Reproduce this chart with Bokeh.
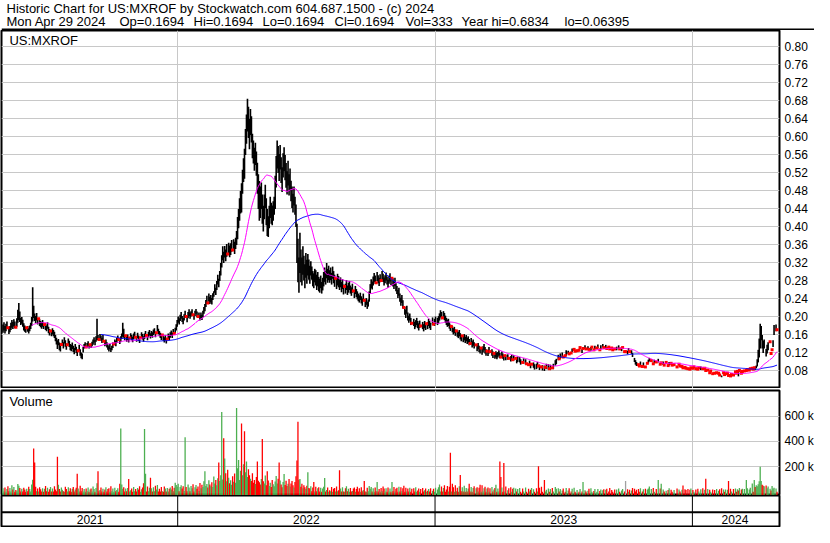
import numpy as np
import pandas as pd
from bokeh.plotting import figure
from bokeh.layouts import column
from bokeh.models import Range1d, FixedTicker, NumeralTickFormatter, Span, ColumnDataSource
from bokeh.core.properties import value
from bokeh.embed import file_html
from bokeh.resources import INLINE

# ---------------- chart texts ----------------
TITLE_LINE_1 = "Historic Chart for US:MXROF by Stockwatch.com 604.687.1500 - (c) 2024"
TITLE_LINE_2 = ["Mon Apr 29 2024", "Op=0.1694", "Hi=0.1694", "Lo=0.1694", "Cl=0.1694",
                "Vol=333", "Year hi=0.6834", "lo=0.06395"]
SYMBOL = "US:MXROF"
VOLUME_LABEL = "Volume"
LAST_DATE = "2024-04-29"
MA_FAST, MA_SLOW = 30, 100
PRICE_TICKS = [0.08, 0.12, 0.16, 0.20, 0.24, 0.28, 0.32, 0.36, 0.40, 0.44,
               0.48, 0.52, 0.56, 0.60, 0.64, 0.68, 0.72, 0.76, 0.80]
VOLUME_TICKS = [200, 400, 600]
VOLUME_TICK_LABELS = ["200 k", "400 k", "600 k"]

# ---------------- daily data ----------------
close = [
.172,.178,.169,.175,.181,.174,.168,.171,.177,.183,
.179,.186,.181,.175,.184,.192,.205,.198,.188,.191,
.183,.176,.172,.169,.174,.171,.167,.172,.178,.186,
.214,.205,.197,.192,.199,.188,.194,.185,.182,.179,
.184,.178,.181,.176,.172,.179,.169,.164,.167,.161,
.166,.162,.158,.151,.144,.138,.142,.134,.129,.137,
.141,.135,.146,.139,.132,.136,.143,.138,.131,.129,
.134,.127,.122,.131,.125,.118,.123,.129,.119,.112,
.109,.126,.133,.137,.131,.135,.139,.133,.136,.134,
.138,.142,.147,.141,.149,.163,.152,.148,.155,.151,
.146,.153,.144,.139,.142,.136,.131,.127,.132,.124,
.129,.135,.138,.142,.139,.146,.151,.148,.144,.149,
.155,.168,.159,.152,.156,.149,.153,.147,.151,.156,
.152,.148,.155,.159,.153,.149,.157,.151,.146,.152,
.158,.154,.149,.155,.161,.157,.152,.159,.163,.156,
.161,.158,.164,.167,.159,.163,.172,.166,.161,.157,
.153,.158,.151,.147,.152,.143,.149,.155,.152,.158,
.162,.157,.165,.161,.168,.175,.184,.192,.188,.196,
.201,.194,.189,.197,.204,.199,.193,.202,.207,.201,
.205,.209,.203,.198,.206,.211,.204,.199,.202,.196,
.201,.197,.205,.212,.219,.228,.236,.229,.241,.235,
.238,.232,.243,.251,.262,.255,.268,.281,.274,.289,
.305,.322,.338,.331,.342,.336,.345,.338,.351,.344,
.349,.356,.347,.359,.352,.361,.372,.395,.412,.438,
.452,.447,.498,.523,.518,.582,.615,.652,.628,.604,
.637,.612,.578,.565,.548,.561,.542,.515,.488,.462,
.451,.473,.436,.412,.445,.468,.431,.409,.392,.418,
.441,.428,.419,.437,.446,.478,.523,.562,.548,.531,
.556,.524,.502,.538,.551,.529,.512,.496,.518,.489,
.503,.478,.462,.451,.468,.442,.421,.348,.318,.285,
.342,.311,.296,.328,.305,.287,.312,.298,.315,.304,
.292,.309,.296,.284,.279,.291,.286,.275,.283,.271,
.268,.276,.263,.271,.281,.292,.285,.301,.289,.296,
.288,.294,.283,.297,.286,.279,.284,.272,.281,.276,
.269,.275,.264,.271,.258,.266,.261,.269,.257,.263,
.268,.259,.254,.262,.256,.249,.258,.251,.246,.241,
.238,.244,.236,.231,.242,.235,.228,.233,.224,.229,
.246,.262,.273,.268,.279,.286,.281,.274,.288,.282,
.276,.284,.279,.291,.285,.277,.282,.288,.279,.272,
.281,.286,.278,.284,.275,.269,.276,.264,.258,.249,
.254,.241,.232,.238,.226,.219,.212,.205,.214,.199,
.193,.198,.188,.184,.191,.186,.179,.183,.188,.181,
.176,.182,.178,.185,.179,.174,.181,.177,.183,.179,
.186,.181,.177,.184,.189,.182,.186,.191,.185,.188,
.192,.198,.205,.201,.196,.203,.199,.193,.188,.184,
.186,.179,.174,.177,.171,.166,.169,.163,.167,.161,
.158,.162,.155,.151,.156,.149,.153,.147,.151,.145,
.148,.142,.139,.144,.137,.141,.135,.132,.136,.129,
.133,.127,.124,.129,.121,.126,.131,.124,.119,.122,
.118,.124,.121,.116,.119,.114,.117,.112,.115,.111,
.114,.118,.112,.109,.115,.111,.107,.112,.108,.104,
.109,.106,.111,.105,.108,.103,.107,.102,.106,.101,
.104,.099,.103,.098,.101,.097,.1,.095,.098,.094,
.096,.092,.095,.09,.093,.089,.091,.087,.09,.088,
.092,.089,.086,.09,.087,.085,.088,.084,.086,.088,
.085,.087,.083,.086,.089,.085,.088,.092,.096,.099,
.103,.108,.105,.111,.107,.113,.109,.115,.112,.118,
.114,.119,.116,.121,.118,.124,.12,.126,.122,.119,
.123,.127,.124,.13,.126,.122,.128,.125,.131,.127,
.124,.129,.126,.122,.127,.131,.128,.125,.13,.126,
.129,.133,.128,.125,.131,.127,.134,.13,.126,.132,
.128,.135,.131,.127,.133,.129,.125,.13,.127,.123,
.128,.124,.131,.127,.122,.126,.13,.125,.121,.121,
.123,.119,.125,.121,.116,.12,.113,.108,.103,.098,
.094,.097,.092,.089,.095,.091,.088,.093,.09,.087,
.091,.095,.099,.103,.097,.101,.098,.094,.099,.102,
.098,.095,.101,.097,.093,.096,.092,.095,.091,.094,
.097,.093,.09,.094,.098,.095,.091,.088,.092,.095,
.091,.087,.09,.093,.089,.086,.088,.085,.089,.086,
.084,.087,.083,.086,.082,.085,.088,.084,.087,.085,
.083,.086,.082,.085,.081,.084,.087,.083,.08,.084,
.079,.076,.08,.077,.074,.078,.075,.072,.076,.073,
.071,.074,.07,.073,.069,.072,.068,.071,.074,.07,
.072,.069,.073,.068,.071,.067,.07,.073,.069,
.074,.076,.073,.077,.075,.079,.076,.073,.077,.075,
.078,.076,.079,.081,.077,.08,.083,.081,.084,.082,
.085,.083,.087,.094,.108,.121,.152,.168,.142,.131,
.138,.126,.119,.128,.134,.121,.143,.117,.125,.138,
.172,.165,.176,.1694]

high = [
.181,.186,.178,.183,.188,.174,.176,.178,.185,.191,
.187,.193,.188,.175,.195,.214,.229,.21,.196,.198,
.192,.184,.179,.176,.174,.178,.173,.179,.185,.198,
.264,.223,.206,.2,.207,.196,.194,.193,.189,.186,
.191,.185,.181,.183,.179,.186,.176,.171,.167,.168,
.173,.169,.165,.158,.152,.146,.149,.141,.136,.137,
.148,.142,.153,.146,.139,.136,.15,.145,.138,.136,
.141,.134,.129,.138,.132,.125,.123,.136,.126,.119,
.117,.131,.138,.142,.131,.14,.144,.138,.136,.139,
.143,.148,.153,.147,.155,.194,.158,.148,.16,.157,
.152,.158,.144,.145,.148,.142,.137,.133,.138,.129,
.134,.141,.138,.148,.145,.152,.157,.148,.15,.155,
.161,.185,.172,.158,.156,.155,.159,.153,.151,.162,
.158,.154,.161,.165,.153,.155,.163,.157,.152,.152,
.164,.16,.155,.161,.167,.157,.158,.165,.169,.162,
.167,.164,.17,.173,.165,.163,.18,.172,.167,.163,
.159,.158,.157,.153,.158,.149,.149,.161,.158,.164,
.168,.163,.171,.161,.174,.182,.191,.199,.195,.203,
.209,.2,.196,.204,.212,.199,.2,.209,.215,.208,
.211,.215,.203,.204,.212,.216,.21,.199,.208,.202,
.208,.203,.212,.22,.227,.236,.245,.229,.25,.243,
.247,.24,.251,.255,.271,.263,.278,.292,.283,.3,
.318,.335,.355,.343,.356,.348,.36,.338,.363,.357,
.362,.369,.347,.371,.365,.374,.389,.42,.438,.462,
.478,.495,.525,.551,.572,.616,.648,.683,.665,.638,
.66,.644,.605,.59,.574,.585,.566,.541,.515,.5,
.488,.497,.47,.445,.47,.492,.462,.438,.422,.445,
.465,.452,.446,.455,.465,.512,.556,.59,.578,.56,
.58,.553,.531,.562,.575,.558,.54,.522,.545,.515,
.528,.501,.488,.472,.488,.465,.448,.405,.372,.33,
.385,.348,.33,.355,.334,.315,.34,.325,.338,.326,
.312,.322,.31,.3,.295,.305,.302,.292,.298,.287,
.283,.29,.276,.285,.298,.308,.3,.318,.305,.312,
.302,.308,.296,.31,.3,.292,.284,.286,.294,.289,
.281,.286,.276,.282,.27,.266,.272,.28,.268,.274,
.278,.268,.264,.272,.256,.258,.267,.26,.255,.25,
.246,.252,.244,.239,.25,.235,.236,.24,.232,.237,
.255,.271,.282,.277,.288,.296,.29,.274,.298,.291,
.285,.293,.279,.3,.294,.286,.291,.297,.288,.281,
.29,.295,.287,.284,.284,.278,.285,.273,.267,.258,
.263,.25,.241,.247,.235,.219,.221,.214,.223,.208,
.201,.206,.196,.184,.199,.194,.187,.191,.196,.189,
.184,.19,.178,.193,.187,.182,.189,.185,.183,.187,
.194,.189,.185,.192,.197,.182,.194,.199,.193,.196,
.2,.206,.213,.209,.196,.211,.207,.201,.196,.192,
.194,.186,.181,.177,.178,.173,.176,.17,.167,.168,
.165,.169,.162,.158,.156,.156,.16,.154,.158,.152,
.155,.149,.139,.151,.144,.148,.142,.139,.136,.136,
.14,.134,.131,.129,.128,.133,.138,.131,.126,.122,
.125,.131,.121,.123,.126,.121,.117,.119,.122,.118,
.12,.124,.118,.109,.121,.117,.113,.112,.114,.11,
.115,.106,.117,.111,.114,.103,.113,.108,.106,.107,
.11,.099,.109,.104,.107,.097,.106,.101,.104,.094,
.102,.092,.101,.096,.093,.095,.097,.093,.09,.094,
.098,.089,.092,.096,.087,.091,.088,.09,.086,.094,
.085,.093,.083,.092,.095,.085,.094,.098,.102,.105,
.103,.114,.105,.117,.107,.119,.109,.121,.112,.124,
.114,.123,.116,.121,.118,.128,.12,.126,.122,.124,
.123,.131,.124,.13,.126,.126,.128,.125,.135,.127,
.124,.133,.126,.122,.131,.131,.128,.125,.134,.126,
.129,.137,.128,.125,.135,.127,.138,.13,.126,.136,
.128,.139,.131,.127,.137,.129,.125,.134,.127,.123,
.132,.124,.135,.127,.122,.13,.13,.125,.121,.121,
.123,.123,.129,.121,.116,.124,.118,.112,.107,.102,
.098,.101,.092,.089,.099,.091,.088,.097,.09,.087,
.091,.095,.103,.107,.097,.101,.098,.094,.103,.102,
.098,.095,.105,.097,.093,.096,.092,.099,.091,.094,
.097,.093,.09,.098,.102,.095,.091,.088,.092,.099,
.091,.087,.09,.093,.089,.086,.088,.085,.089,.086,
.084,.091,.083,.086,.082,.085,.092,.084,.087,.085,
.083,.086,.082,.085,.081,.088,.087,.083,.08,.084,
.079,.076,.08,.077,.074,.078,.075,.072,.076,.073,
.071,.074,.07,.073,.069,.076,.068,.071,.074,.07,
.072,.069,.073,.068,.071,.067,.07,.073,.069,
.074,.076,.073,.077,.078,.079,.076,.073,.077,.075,
.078,.076,.079,.081,.077,.08,.083,.085,.084,.082,
.085,.088,.09,.104,.125,.15,.183,.178,.158,.145,
.148,.14,.127,.136,.142,.121,.143,.117,.125,.146,
.18,.175,.181,.1694]

low = [
.163,.168,.161,.166,.172,.174,.16,.164,.169,.174,
.171,.177,.173,.175,.176,.185,.191,.187,.18,.183,
.176,.168,.165,.163,.174,.165,.161,.166,.171,.178,
.188,.196,.189,.184,.19,.181,.194,.178,.175,.172,
.176,.171,.181,.169,.166,.172,.162,.157,.167,.155,
.159,.155,.151,.144,.137,.127,.135,.124,.121,.137,
.134,.128,.139,.132,.125,.136,.136,.131,.124,.122,
.127,.12,.115,.124,.118,.111,.123,.122,.112,.106,
.104,.119,.128,.132,.131,.13,.134,.128,.136,.129,
.133,.136,.141,.135,.143,.147,.146,.148,.149,.145,
.14,.147,.144,.133,.136,.13,.125,.121,.126,.12,
.124,.129,.138,.136,.133,.14,.145,.148,.138,.143,
.149,.154,.152,.146,.156,.143,.147,.141,.151,.15,
.146,.142,.149,.153,.153,.143,.151,.145,.14,.152,
.152,.148,.143,.149,.155,.157,.146,.153,.157,.15,
.155,.152,.158,.161,.153,.163,.165,.16,.155,.151,
.147,.158,.145,.141,.146,.139,.149,.149,.146,.152,
.156,.151,.159,.161,.162,.168,.176,.185,.181,.189,
.194,.187,.182,.19,.197,.199,.186,.195,.2,.194,
.199,.203,.203,.192,.2,.205,.198,.199,.196,.19,
.195,.191,.198,.205,.211,.22,.227,.229,.232,.227,
.23,.226,.236,.243,.252,.247,.258,.27,.264,.278,
.29,.308,.324,.318,.33,.322,.332,.338,.339,.331,
.336,.343,.347,.346,.338,.349,.358,.371,.395,.412,
.428,.43,.472,.498,.505,.558,.583,.61,.596,.571,
.602,.586,.551,.539,.523,.536,.512,.472,.438,.412,
.418,.438,.405,.388,.415,.44,.402,.378,.376,.395,
.418,.405,.402,.412,.425,.438,.486,.528,.518,.5,
.526,.496,.476,.508,.522,.502,.485,.47,.49,.468,
.478,.455,.44,.43,.446,.425,.398,.318,.275,.252,
.296,.275,.268,.292,.279,.262,.285,.272,.29,.281,
.272,.29,.281,.266,.262,.275,.268,.258,.266,.255,
.252,.262,.25,.257,.266,.276,.27,.284,.274,.28,
.274,.28,.27,.283,.273,.265,.284,.26,.268,.264,
.258,.264,.253,.26,.248,.266,.25,.258,.247,.252,
.258,.25,.245,.252,.256,.24,.249,.242,.237,.233,
.23,.236,.228,.223,.234,.235,.22,.225,.216,.221,
.232,.25,.262,.259,.268,.276,.272,.274,.278,.273,
.267,.275,.279,.281,.276,.268,.273,.279,.27,.263,
.272,.277,.269,.284,.266,.26,.267,.255,.249,.24,
.245,.232,.223,.229,.217,.219,.203,.196,.205,.19,
.185,.19,.18,.184,.183,.178,.171,.175,.18,.173,
.168,.174,.178,.177,.171,.166,.173,.169,.183,.171,
.178,.173,.169,.176,.181,.182,.178,.183,.177,.18,
.184,.19,.197,.193,.196,.195,.191,.185,.18,.176,
.178,.172,.167,.177,.164,.159,.162,.156,.167,.154,
.151,.155,.148,.144,.156,.142,.146,.14,.144,.138,
.141,.135,.139,.137,.13,.134,.128,.125,.136,.122,
.126,.12,.117,.129,.114,.119,.124,.117,.112,.122,
.111,.117,.121,.109,.112,.107,.117,.105,.108,.104,
.108,.112,.106,.109,.109,.105,.101,.112,.102,.098,
.103,.106,.105,.099,.102,.103,.101,.096,.106,.095,
.098,.099,.097,.092,.095,.097,.094,.089,.092,.094,
.09,.092,.089,.084,.093,.083,.085,.081,.09,.082,
.086,.089,.08,.084,.087,.079,.088,.078,.086,.082,
.085,.081,.083,.08,.083,.085,.082,.086,.09,.093,
.103,.102,.105,.105,.107,.107,.109,.109,.112,.112,
.114,.115,.116,.121,.118,.12,.12,.126,.122,.115,
.123,.123,.124,.13,.126,.118,.128,.125,.127,.127,
.124,.125,.126,.122,.123,.131,.128,.125,.126,.126,
.129,.129,.128,.125,.127,.127,.13,.13,.126,.128,
.128,.131,.131,.127,.129,.129,.125,.126,.127,.123,
.124,.124,.127,.127,.122,.122,.13,.125,.121,.121,
.123,.115,.121,.121,.116,.116,.109,.104,.098,.092,
.089,.093,.092,.089,.091,.091,.088,.089,.09,.087,
.091,.095,.095,.099,.097,.101,.098,.094,.095,.102,
.098,.095,.097,.097,.093,.096,.092,.091,.091,.094,
.097,.093,.09,.09,.094,.095,.091,.088,.092,.091,
.091,.087,.09,.093,.089,.086,.088,.085,.089,.086,
.084,.083,.083,.086,.082,.085,.084,.084,.087,.085,
.083,.086,.082,.085,.081,.08,.087,.083,.08,.084,
.079,.076,.08,.077,.074,.078,.075,.072,.076,.073,
.071,.074,.07,.073,.069,.068,.064,.071,.074,.07,
.072,.069,.073,.068,.071,.067,.07,.073,.069,
.074,.076,.073,.077,.066,.079,.076,.073,.077,.075,
.078,.076,.079,.081,.077,.08,.083,.081,.084,.082,
.085,.08,.084,.088,.097,.108,.128,.146,.128,.118,
.128,.117,.11,.117,.124,.121,.143,.117,.125,.131,
.158,.16,.166,.1694]

# volume in thousands of shares; 0 = no trade that day
volume_k = [
28,4,35,2,22,45,6,30,3,52,
20,38,2,15,5,62,48,31,4,24,
3,33,19,2,25,5,40,22,3,58,
96,343,233,41,5,27,3,36,21,4,
29,2,24,47,5,33,2,21,38,4,
26,3,44,19,6,279,57,23,4,34,
18,5,2,41,22,3,36,6,28,2,
24,39,4,20,33,143,26,3,48,5,
31,3,22,2,27,6,35,2,20,26,
4,42,23,2,30,68,164,5,16,34,
3,25,2,19,37,4,22,28,2,45,
5,26,2,33,6,15,29,2,64,502,
58,24,36,3,27,5,31,102,4,14,
26,2,38,5,23,3,30,19,44,2,
21,35,68,497,143,4,42,6,33,112,
29,3,37,6,48,19,55,4,24,3,
38,5,2,43,27,4,30,3,25,35,
19,46,5,33,72,55,41,64,6,38,
52,27,44,8,433,39,6,58,35,5,
47,29,61,4,36,54,25,42,7,71,
28,56,39,84,164,47,63,35,92,58,
44,76,38,121,67,95,52,108,233,86,
132,633,98,425,264,148,84,176,112,69,
93,57,124,81,146,72,664,188,253,94,
167,541,132,218,480,156,240,118,179,131,
104,86,147,72,95,63,118,241,89,76,
58,102,418,84,67,129,53,164,91,47,
72,38,95,61,44,83,126,67,104,233,
91,59,36,78,142,54,88,47,65,102,
43,67,86,52,35,78,124,248,556,96,
102,41,64,29,53,37,22,48,156,31,
26,45,6,34,79,4,41,5,29,37,
3,33,2,27,41,110,4,16,35,2,
14,5,39,2,24,31,3,42,6,13,
171,26,3,37,4,2,29,44,5,24,
2,31,4,8,26,35,2,22,40,3,
28,2,36,5,15,87,4,2,33,6,
47,25,38,3,29,2,34,5,79,4,
23,2,31,5,42,26,3,28,2,35,
4,27,2,79,6,38,3,25,32,2,
41,3,36,5,28,48,2,33,4,26,
3,32,2,24,0,29,4,37,2,11,
27,2,22,0,31,4,13,26,2,10,
22,3,28,0,9,24,2,33,0,20,
36,58,4,42,3,31,52,2,19,47,
4,41,310,3,64,37,2,52,6,33,
2,44,133,5,36,3,48,2,31,4,
26,64,3,39,2,31,45,0,28,37,
3,33,56,2,52,4,29,41,2,26,
34,2,28,0,38,3,19,31,56,2,
27,3,241,118,35,2,228,4,43,0,
14,29,0,36,2,24,32,0,27,3,
22,0,31,2,0,26,4,0,34,2,
0,25,3,18,30,0,21,2,0,28,
3,202,33,0,41,2,0,95,4,18,
0,27,2,23,0,31,3,0,38,24,
0,29,3,22,0,11,26,0,2,31,
0,12,28,0,3,24,0,33,2,0,
15,0,2,22,0,4,79,0,13,3,
0,10,24,0,29,2,0,8,23,0,
2,22,0,7,19,0,13,21,0,17,
24,0,3,31,0,16,2,0,19,0,
20,0,27,2,0,11,23,0,3,87,
0,21,2,18,0,12,31,0,24,3,
17,0,22,2,28,0,3,21,0,25,
0,19,26,43,0,22,0,30,2,0,
23,0,95,0,27,64,0,20,3,0,
9,0,15,28,0,18,2,0,16,0,
0,26,0,19,3,0,17,50,0,21,
15,0,22,0,18,27,0,16,2,0,
19,0,25,3,0,21,0,28,0,17,
105,0,22,0,18,2,0,20,0,16,
0,23,0,9,21,0,28,0,19,2,
20,0,18,87,0,24,3,0,22,
0,26,2,21,12,30,0,19,24,0,
22,0,95,28,0,19,33,0,67,2,
95,38,52,44,61,85,200,87,56,48,
45,0,50,29,42,0,24,12,46,27,
33,0,26,0.333]

# ---------------- layout ----------------
# reference picture is 830x543; output content is 814x527
REF_H = 543
OUT_W, OUT_H = 814, 527
SY = OUT_H / REF_H
def oy(v): return int(round(v * SY))

FONT = "Liberation Sans"
GRID = "#c8c8c8"
UP, DOWN, SAME = "#4caf50", "#ff0000", "#a0a0a0"

R_TITLE_B, R_PRICE_B, R_VOL_T, R_VOL_B, R_AX_B = 31, 400, 402, 510, 542
R_FRAME_L, R_FRAME_R = 1, 789      # plot frame edges in the reference

title_h = oy(R_TITLE_B)
price_h = oy(R_PRICE_B) - title_h
vol_gap = oy(R_VOL_T) - oy(R_PRICE_B)
vol_h = oy(R_VOL_B) - oy(R_VOL_T)
ax_h = oy(R_AX_B) - oy(R_VOL_B)
ax_pad = OUT_H - oy(R_AX_B)
left_pad = 1
right_pad = 35
frame_w = OUT_W - left_pad - right_pad

# price / volume scale calibration (reference pixels)
P_REF_Y, P_REF_V, P_PX_PER_UNIT = 381.0, 0.08, 463.75
def price_at(ry): return P_REF_V + (P_REF_Y - ry) / P_PX_PER_UNIT
V_REF_Y, V_REF_V, V_PX_PER_K = 428.3, 600.0, 0.13
def vol_at(ry): return V_REF_V + (V_REF_Y - ry) / V_PX_PER_K

# ---------------- derived ----------------
N = len(close)
dates = pd.bdate_range(end=LAST_DATE, periods=N)
idx = np.arange(N)
c = np.array(close, dtype=float)
h = np.array(high, dtype=float)
l = np.array(low, dtype=float)
vk = np.array(volume_k, dtype=float)
traded = vk > 0
flat = h == l
ma_fast = pd.Series(c).rolling(MA_FAST).mean().to_numpy()
ma_slow = pd.Series(c).rolling(MA_SLOW).mean().to_numpy()
chg = np.diff(c, prepend=c[0])
vol_colors = np.where(chg > 0, UP, np.where(chg < 0, DOWN, SAME))
vol_colors[0] = UP

xr = Range1d(-1.5, N + 1.5)
def x_at(rx): return xr.start + (rx - R_FRAME_L) * (xr.end - xr.start) / (R_FRAME_R - R_FRAME_L)

years = dates.year.to_numpy()
year_bounds = [i - 0.5 for i in range(1, N) if years[i] != years[i - 1]]
year_names, year_centers = [], []
for y in np.unique(years):
    ii = np.where(years == y)[0]
    left = max(ii[0] - 0.5, xr.start)
    right = min(ii[-1] + 0.5, xr.end)
    year_names.append(str(y))
    year_centers.append((left + right) / 2)

def panel(fh, yr, top=0, bottom=0, yloc="right"):
    p = figure(frame_width=frame_w, frame_height=fh, x_range=xr, y_range=yr,
               min_border_left=left_pad, min_border_right=right_pad,
               min_border_top=top, min_border_bottom=bottom,
               toolbar_location=None, output_backend="svg",
               x_axis_location=None, y_axis_location=yloc)
    p.outline_line_color = "black"
    p.outline_line_width = 2
    p.background_fill_color = "white"
    p.border_fill_color = "white"
    return p

def style_axis(ax):
    ax.major_tick_line_color = None
    ax.minor_tick_line_color = None
    ax.major_tick_out = 0
    ax.major_tick_in = 0
    ax.axis_line_color = None
    ax.major_label_text_font = FONT
    ax.major_label_text_font_size = "12px"
    ax.major_label_text_color = "black"
    ax.major_label_standoff = 5

TXT = dict(text_font=value(FONT), text_color="black", text_baseline="middle")

# ---- title ----
t = figure(frame_width=OUT_W, frame_height=title_h, x_range=Range1d(0, OUT_W),
           y_range=Range1d(R_TITLE_B, 0), min_border=0, toolbar_location=None,
           output_backend="svg", x_axis_location=None, y_axis_location=None)
t.outline_line_color = None
t.grid.visible = False
t.text(x=[5], y=[8.5], text=[TITLE_LINE_1], text_font_size=value("13px"), text_align="left", **TXT)
t.text(x=[5, 118, 192, 261, 333, 404, 460, 563], y=[21.5] * 8, text=TITLE_LINE_2,
       text_font_size=value("13px"), text_align="left", **TXT)
t.quad(left=[0], right=[OUT_W], top=[29], bottom=[R_TITLE_B], fill_color="black", line_color=None)

# ---- price ----
p = panel(price_h, Range1d(price_at(R_PRICE_B), price_at(R_TITLE_B)))
style_axis(p.yaxis[0])
p.yaxis.ticker = FixedTicker(ticks=PRICE_TICKS)
p.yaxis.formatter = NumeralTickFormatter(format="0.00")
p.ygrid.ticker = FixedTicker(ticks=PRICE_TICKS)
p.xgrid.ticker = FixedTicker(ticks=year_bounds)
p.grid.grid_line_color = GRID
p.grid.grid_line_width = 1
bar = traded & ~flat
dot = traded & flat
p.segment(x0=idx[bar], y0=l[bar], x1=idx[bar], y1=h[bar], line_color="black", line_width=1.6)
p.scatter(x=idx[dot], y=c[dot], marker="square", size=3, fill_color=DOWN, line_color=None)
p.line(idx, ma_slow, line_color="#0000ff", line_width=1)
p.line(idx, ma_fast, line_color="#ff00ff", line_width=1)
p.text(x=[x_at(9)], y=[price_at(41)], text=[SYMBOL], text_font_size=value("13px"), text_align="left", **TXT)

# ---- volume ----
v = panel(vol_h, Range1d(vol_at(R_VOL_B), vol_at(R_VOL_T)), top=vol_gap)
style_axis(v.yaxis[0])
v.yaxis.ticker = FixedTicker(ticks=VOLUME_TICKS)
v.yaxis.major_label_overrides = dict(zip(VOLUME_TICKS, VOLUME_TICK_LABELS))
v.ygrid.ticker = FixedTicker(ticks=VOLUME_TICKS)
v.xgrid.ticker = FixedTicker(ticks=year_bounds)
v.grid.grid_line_color = GRID
vsrc = ColumnDataSource(dict(x=idx[traded], top=vk[traded], color=vol_colors[traded]))
v.vbar(x="x", top="top", bottom=vol_at(R_VOL_B), width=1.3, fill_color="color", line_color=None, source=vsrc)
v.text(x=[x_at(9)], y=[vol_at(413)], text=[VOLUME_LABEL], text_font_size=value("13px"), text_align="left", **TXT)

# ---- time axis ----
a = panel(ax_h, Range1d(R_AX_B, R_VOL_B), bottom=ax_pad, yloc=None)
a.grid.visible = False
a.add_layout(Span(location=527.3, dimension="width", line_color="black", line_width=2))
for b in year_bounds:
    a.add_layout(Span(location=b, dimension="height", line_color="black", line_width=1))
a.text(x=year_centers, y=[534.6] * len(year_centers), text=year_names,
       text_font_size=value("12px"), text_align="center", **TXT)

layout = column(t, p, v, a, spacing=0)
open("out.html", "w").write(file_html(layout, INLINE, title="US:MXROF historic chart"))
